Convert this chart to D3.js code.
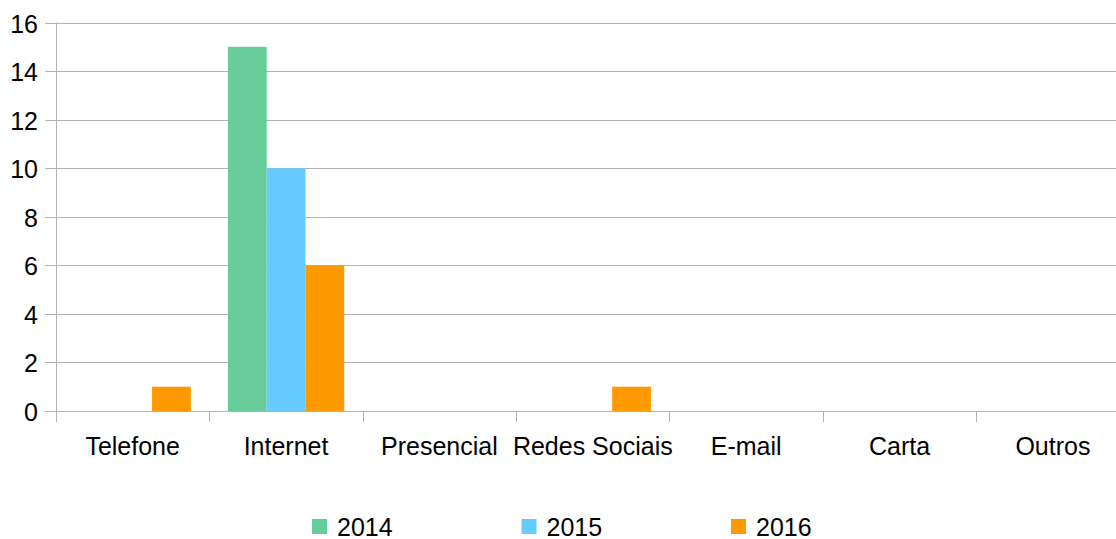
<!DOCTYPE html>
<html><head><meta charset="utf-8">
<script src="https://cdn.jsdelivr.net/npm/d3@7"></script>
<style>body{margin:0;background:#fff}svg{display:block}text{font-family:"Liberation Sans",Arial,sans-serif;fill:#000}</style>
</head><body><svg id="c" width="1116" height="539"></svg>
<script>
const categories = ["Telefone","Internet","Presencial","Redes Sociais","E-mail","Carta","Outros"];
const seriesNames = ["2014","2015","2016"];
const v2014 = [0,15,0,0,0,0,0];
const v2015 = [0,10,0,0,0,0,0];
const v2016 = [1,6,0,1,0,0,0];
const colors = ["#66cc99","#66ccff","#ff9900"];
const yTicks = [0,2,4,6,8,10,12,14,16];

(function(){
const values = [v2014,v2015,v2016];
const svg = d3.select("#c");
const pl = 56, pr = 1129.6, pt = 22.5, pb = 411;
const x = d3.scaleBand().domain(categories).range([pl,pr]).paddingInner(0).paddingOuter(0);
const xs = d3.scaleBand().domain(seriesNames).range([0,x.bandwidth()]).paddingInner(0).paddingOuter(0.478);
const y = d3.scaleLinear().domain([0,16]).range([pb,pt]);
const grid = "#b3b3b3";
const fs = 25;

svg.append("g").selectAll("line").data(yTicks).join("line")
  .attr("x1",45).attr("x2",1116).attr("y1",d=>Math.round(y(d))+0.5).attr("y2",d=>Math.round(y(d))+0.5)
  .attr("stroke",grid).attr("stroke-width",1);
svg.append("line").attr("x1",pl+0.5).attr("x2",pl+0.5).attr("y1",pt).attr("y2",pb+11).attr("stroke",grid);
const bounds = categories.map(c=>x(c)).concat([pr]);
svg.append("g").selectAll("line").data(bounds).join("line")
  .attr("x1",d=>Math.round(d)+0.5).attr("x2",d=>Math.round(d)+0.5).attr("y1",pb).attr("y2",pb+11)
  .attr("stroke",grid);

seriesNames.forEach((s,i)=>{
  svg.append("g").selectAll("rect").data(categories.map((c,j)=>({c,v:values[i][j]})).filter(d=>d.v>0)).join("rect")
    .attr("x",d=>x(d.c)+xs(s)).attr("width",xs.bandwidth())
    .attr("y",d=>y(d.v)).attr("height",d=>y(0)-y(d.v)).attr("fill",colors[i]);
});

svg.append("g").selectAll("text").data(yTicks).join("text")
  .attr("x",38).attr("y",d=>y(d)+10).attr("text-anchor","end").attr("font-size",fs).text(d=>d);
svg.append("g").selectAll("text").data(categories).join("text")
  .attr("x",d=>x(d)+x.bandwidth()/2).attr("y",454.5).attr("text-anchor","middle").attr("font-size",fs).text(d=>d);

const lg = svg.append("g");
seriesNames.forEach((s,i)=>{
  const lx = 312 + i*209.5;
  lg.append("rect").attr("x",lx).attr("y",519).attr("width",15).attr("height",15).attr("fill",colors[i]);
  lg.append("text").attr("x",lx+25).attr("y",535.5).attr("font-size",fs).text(s);
});
})();
</script></body></html>
